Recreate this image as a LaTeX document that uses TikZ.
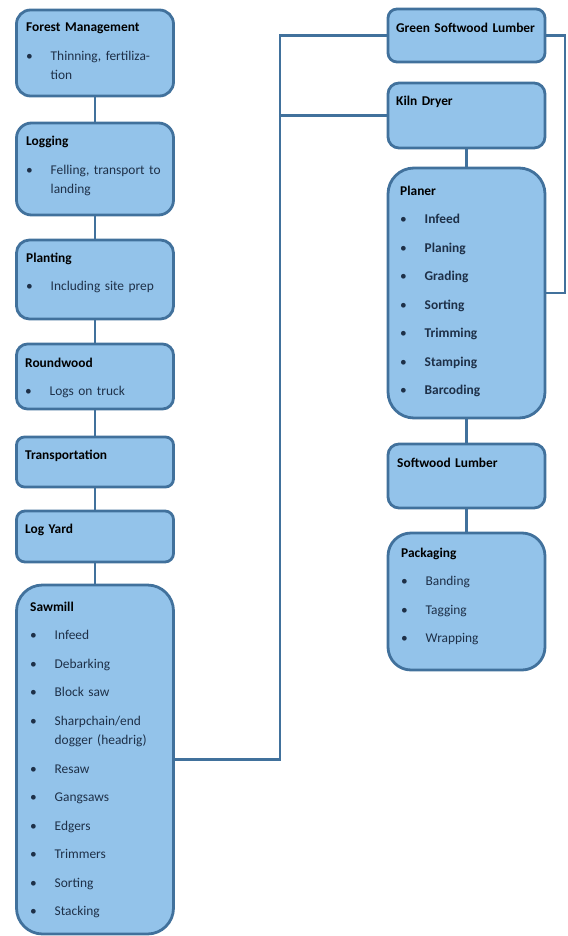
\documentclass[tikz,border=0pt]{standalone}
\usepackage{fontspec}
\setmainfont{Carlito}
\definecolor{boxfill}{HTML}{93C3EA}
\definecolor{boxline}{HTML}{41719C}
\definecolor{itemtext}{HTML}{1E3048}
\newcommand{\ttl}[1]{{\bfseries\color{black}#1}}
\newcommand{\itm}[1]{\makebox[24.5pt][l]{•}#1}
\newcommand{\cnt}[1]{\hspace*{24.5pt}#1}

\begin{document}
\begin{tikzpicture}[x=1pt,y=-1pt,
    box/.style={draw=boxline,fill=boxfill,line width=2.8pt,minimum width=157pt,inner sep=0pt},
    txt/.style={anchor=base west,inner sep=0pt,text width=150pt,align=left,text=itemtext,
      font=\fontsize{13.4}{19.5}\selectfont},
    link/.style={draw=boxline,line width=2.8pt}]
  \useasboundingbox (0,0) rectangle (567,936);

  \node[box,minimum height=86pt,rounded corners=14pt] (forest) at (95,53) {};
  \node[txt] (forest-t) at (26,32) {\ttl{Forest Management}\\[9pt]
    \itm{Thinning, fertiliza-}\\\cnt{tion}};

  \node[box,minimum height=92pt,rounded corners=15pt] (logging) at (95,169) {};
  \node[txt] (logging-t) at (26,146) {\ttl{Logging}\\[9pt]
    \itm{Felling, transport to}\\\cnt{landing}};

  \node[box,minimum height=79pt,rounded corners=13pt] (planting) at (95,279.5) {};
  \node[txt] (planting-t) at (26,262) {\ttl{Planting}\\[9pt]
    \itm{Including site prep}};

  \node[box,minimum height=65pt,rounded corners=11pt] (roundwood) at (95,376.5) {};
  \node[txt] (roundwood-t) at (25,367) {\ttl{Roundwood}\\[9pt]
    \itm{Logs on truck}};

  \node[box,minimum height=50pt,rounded corners=8pt] (transport) at (95,462) {};
  \node[txt] (transport-t) at (25,459) {\ttl{Transportation}};

  \node[box,minimum height=51pt,rounded corners=8.5pt] (logyard) at (95,536.5) {};
  \node[txt] (logyard-t) at (25,533) {\ttl{Log Yard}};

  \node[box,minimum height=349pt,rounded corners=26pt] (sawmill) at (95,759.5) {};
  \node[txt] (sawmill-t) at (30,611) {\ttl{Sawmill}\\[9pt]
    \itm{Infeed}\\[9pt]
    \itm{Debarking}\\[9pt]
    \itm{Block saw}\\[9pt]
    \itm{Sharpchain/end}\\\cnt{dogger (headrig)}\\[9pt]
    \itm{Resaw}\\[9pt]
    \itm{Gangsaws}\\[9pt]
    \itm{Edgers}\\[9pt]
    \itm{Trimmers}\\[9pt]
    \itm{Sorting}\\[9pt]
    \itm{Stacking}};

  \node[box,minimum height=53pt,rounded corners=9pt] (green) at (466.5,35.5) {};
  \node[txt] (green-t) at (396,33) {\ttl{Green Softwood Lumber}};

  \node[box,minimum height=65pt,rounded corners=11pt] (kiln) at (466.5,115.5) {};
  \node[txt] (kiln-t) at (396,106) {\ttl{Kiln Dryer}};

  \node[box,minimum height=250pt,rounded corners=26pt] (planer) at (466.5,293) {};
  \node[txt] (planer-t) at (400,195) {\ttl{Planer}\\[9pt]
    \itm{\textbf{Infeed}}\\[9pt]
    \itm{\textbf{Planing}}\\[9pt]
    \itm{\textbf{Grading}}\\[9pt]
    \itm{\textbf{Sorting}}\\[9pt]
    \itm{\textbf{Trimming}}\\[9pt]
    \itm{\textbf{Stamping}}\\[9pt]
    \itm{\textbf{Barcoding}}};

  \node[box,minimum height=64pt,rounded corners=11pt] (softwood) at (466.5,476) {};
  \node[txt] (softwood-t) at (397,467) {\ttl{Softwood Lumber}};

  \node[box,minimum height=137pt,rounded corners=23pt] (packaging) at (466.5,601.5) {};
  \node[txt] (packaging-t) at (401,557) {\ttl{Packaging}\\[9pt]
    \itm{Banding}\\[9pt]
    \itm{Tagging}\\[9pt]
    \itm{Wrapping}};

  \coordinate (lbend) at (280,35.5);
  \coordinate (rbend) at (565,35.5);

  \path[link] (forest) -- (logging);
  \path[link] (logging) -- (planting);
  \path[link] (planting) -- (roundwood);
  \path[link] (roundwood) -- (transport);
  \path[link] (transport) -- (logyard);
  \path[link] (logyard) -- (sawmill);
  \path[link] (sawmill.east) -| (lbend) -- (green.west);
  \path[link] (kiln.west) -- (kiln.west -| lbend);
  \path[link] (green.east) -- (rbend) |- (planer.east);
  \path[link] (kiln) -- (planer);
  \path[link] (planer) -- (softwood);
  \path[link] (softwood) -- (packaging);
\end{tikzpicture}
\end{document}
